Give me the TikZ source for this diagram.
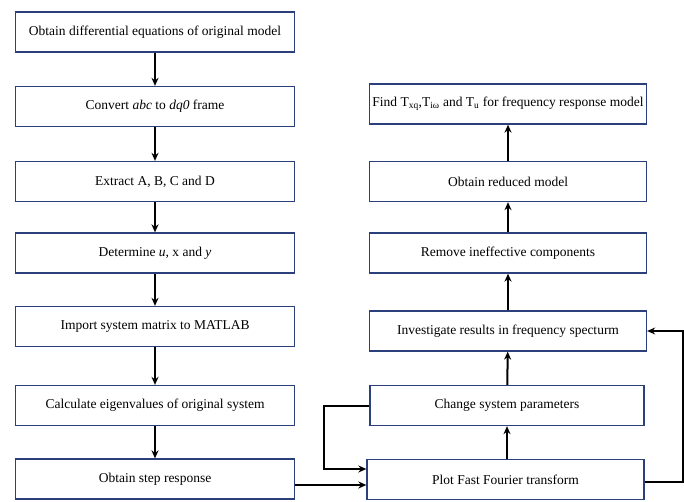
\documentclass[tikz,border=0pt]{standalone}
\usepackage{fontspec}
\setmainfont{Liberation Serif}
\usetikzlibrary{arrows.meta}
\definecolor{boxblue}{HTML}{2B3F7A}
\tikzset{
  flowbox/.style={draw=boxblue, line width=1.3pt, fill=white, minimum width=279pt, minimum height=40pt, inner sep=0pt, font=\fontsize{13.5}{15}\selectfont},
  flowarrow/.style={draw=black, line width=2pt, -{Stealth[length=8pt,width=7pt]}},
}
\begin{document}
\begin{tikzpicture}[x=1pt,y=-1pt]
\useasboundingbox[fill=white] (0,0) rectangle (684,502);
% left column
\node[flowbox] (l1) at (155,32) {Obtain differential equations of original model};
\node[flowbox] (l2) at (155,106.5) {Convert \textit{abc} to \textit{dq0} frame};
\node[flowbox] (l3) at (155,181.5) {Extract A, B, C and D};
\node[flowbox] (l4) at (155,253) {Determine \textit{u}, x and \textit{y}};
\node[flowbox] (l5) at (155,326.5) {Import system matrix to MATLAB};
\node[flowbox] (l6) at (155,405.5) {Calculate eigenvalues of original system};
\node[flowbox] (l7) at (155,479) {Obtain step response};
% right column
\node[flowbox, minimum width=277pt] (r1) at (508,104) {Find T\textsubscript{xq},T\textsubscript{iω} and T\textsubscript{u} for frequency response model};
\node[flowbox, minimum width=277pt] (r2) at (508,181.5) {Obtain reduced model};
\node[flowbox, minimum width=277pt] (r3) at (508,253) {Remove ineffective components};
\node[flowbox, minimum width=277pt] (r4) at (508,331) {Investigate results in frequency specturm};
\node[flowbox, minimum width=274pt] (r5) at (507,405.5) {Change system parameters};
\node[flowbox, minimum width=277pt] (r6) at (505.5,479.5) {Plot Fast Fourier transform};
% left arrows
\draw[flowarrow] (l1) -- (l2);
\draw[flowarrow] (l2) -- (l3);
\draw[flowarrow] (l3) -- (l4);
\draw[flowarrow] (l4) -- (l5);
\draw[flowarrow] (l5) -- (l6);
\draw[flowarrow] (l6) -- (l7);
% right arrows
\draw[flowarrow] (r6.north -| r5.south) -- (r5.south);
\draw[flowarrow] (r5) -- (r4);
\draw[flowarrow] (r4) -- (r3);
\draw[flowarrow] (r3) -- (r2);
\draw[flowarrow] (r2) -- (r1);
% cross connections
\draw[flowarrow] (l7.east |- 0,485) -- (r6.west |- 0,485);
\coordinate (c1) at (324,405.5);
\draw[flowarrow] (r5.west) -- (c1) -- (c1 |- 0,469) -- (r6.west |- 0,469);
\coordinate (c2) at (683,482);
\draw[flowarrow] (r6.east |- c2) -- (c2) -- (c2 |- r4.east) -- (r4.east);
\end{tikzpicture}
\end{document}
